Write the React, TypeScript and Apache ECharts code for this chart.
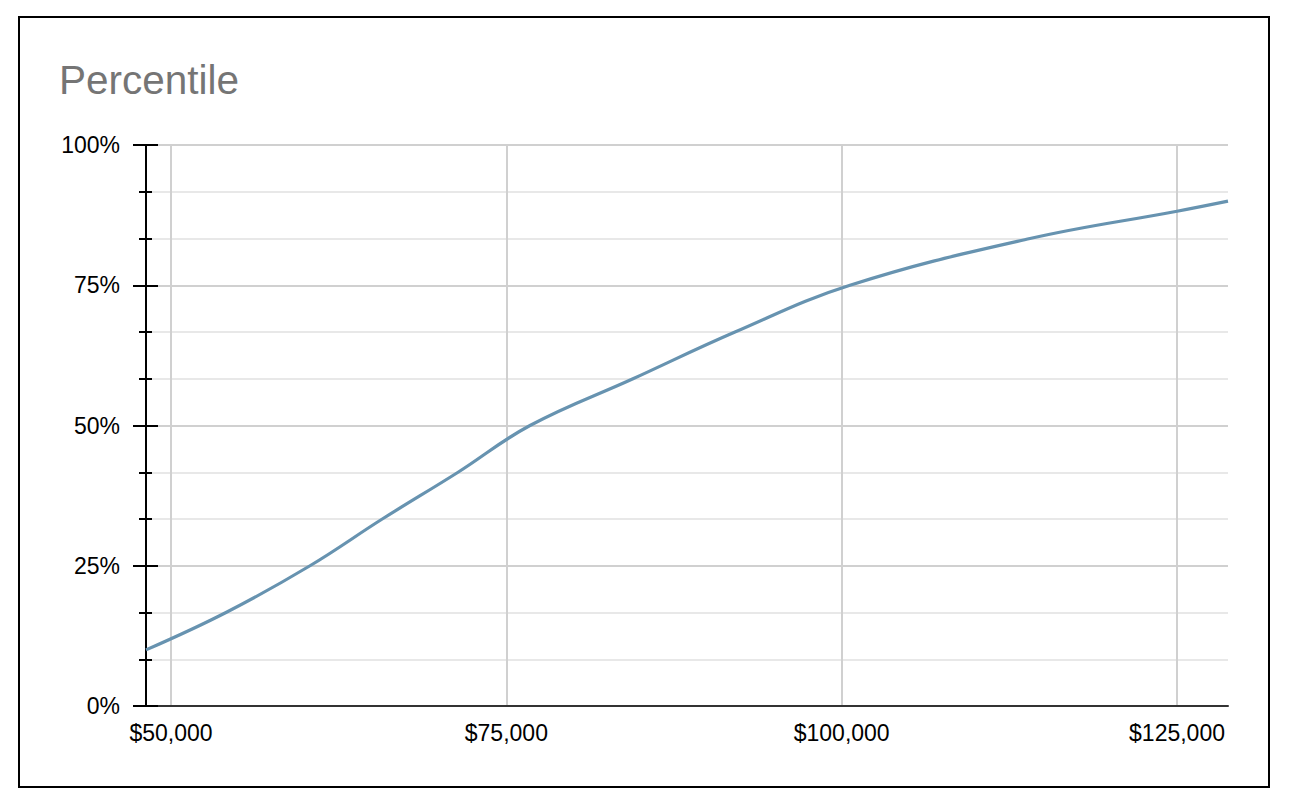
import React, { useEffect, useRef } from "react";
import * as echarts from "echarts";

const incomes = [48136, 54100, 60362, 65750, 71400, 76763, 84442, 92046, 100619, 114038, 125000, 128800];
const percentiles = [10, 16.67, 25, 33.33, 41.67, 50, 58.33, 66.67, 75, 83.33, 88.2, 90];
const xTickValues = [50000, 75000, 100000, 125000];
const titleText = "Percentile";

const FONT = "'Liberation Sans', Arial, Helvetica, sans-serif";

export default function App() {
  const ref = useRef<HTMLDivElement>(null);
  useEffect(() => {
    if (!ref.current) return;
    const chart = echarts.init(ref.current, undefined, { renderer: "svg" });
    const data = incomes.map((v, i) => [v, percentiles[i]]);
    chart.setOption({
      animation: false,
      backgroundColor: "#ffffff",
      textStyle: { fontFamily: FONT },
      grid: { left: 146, right: 63, top: 145, bottom: 101, containLabel: false },
      graphic: [
        {
          type: "rect",
          shape: { x: 19, y: 17, width: 1250, height: 770 },
          style: { fill: "none", stroke: "#000", lineWidth: 2 },
          silent: true,
          z: 100,
        },
        {
          type: "text",
          left: 59,
          top: 59,
          style: { text: titleText, fill: "#757575", font: `40.5px ${FONT}` },
        },
      ],
      xAxis: {
        type: "value",
        min: incomes[0],
        max: incomes[incomes.length - 1],
        axisLine: { show: true, onZero: false, lineStyle: { color: "#333", width: 2 } },
        axisTick: { show: false, customValues: xTickValues },
        axisLabel: {
          customValues: xTickValues,
          color: "#000",
          fontSize: 23,
          fontFamily: FONT,
          margin: 15,
          formatter: (v: number) => "$" + v.toLocaleString("en-US"),
        },
        splitLine: { show: true, lineStyle: { color: "#d0d0d0", width: 2 } },
      },
      yAxis: [
        {
          type: "value",
          min: 0,
          max: 100,
          interval: 25,
          axisLine: { show: true, lineStyle: { color: "#000", width: 2 } },
          axisTick: { show: true, length: 13, lineStyle: { color: "#000", width: 2 } },
          minorTick: { show: true, splitNumber: 3, length: 7, lineStyle: { color: "#000", width: 2 } },
          axisLabel: { color: "#000", fontSize: 23, fontFamily: FONT, margin: 26, formatter: "{value}%" },
          splitLine: { show: true, lineStyle: { color: "#d0d0d0", width: 2 } },
          minorSplitLine: { show: true, lineStyle: { color: "#e8e8e8", width: 2 } },
        },
        {
          type: "value",
          min: 0,
          max: 100,
          interval: 25,
          position: "left",
          axisLine: { show: false },
          axisTick: { show: true, inside: true, length: 12, lineStyle: { color: "#000", width: 2 } },
          minorTick: { show: true, splitNumber: 3, length: 6, lineStyle: { color: "#000", width: 2 } },
          axisLabel: { show: false },
          splitLine: { show: false },
        },
      ],
      series: [
        {
          type: "line",
          data,
          smooth: 0.4,
          showSymbol: false,
          symbol: "none",
          lineStyle: { color: "#6793b0", width: 3.2 },
          z: 5,
        },
      ],
    });
    return () => chart.dispose();
  }, []);
  return (
    <div
      ref={ref}
      style={{ position: "absolute", left: 0, top: 0, width: 1291, height: 807 }}
    />
  );
}
